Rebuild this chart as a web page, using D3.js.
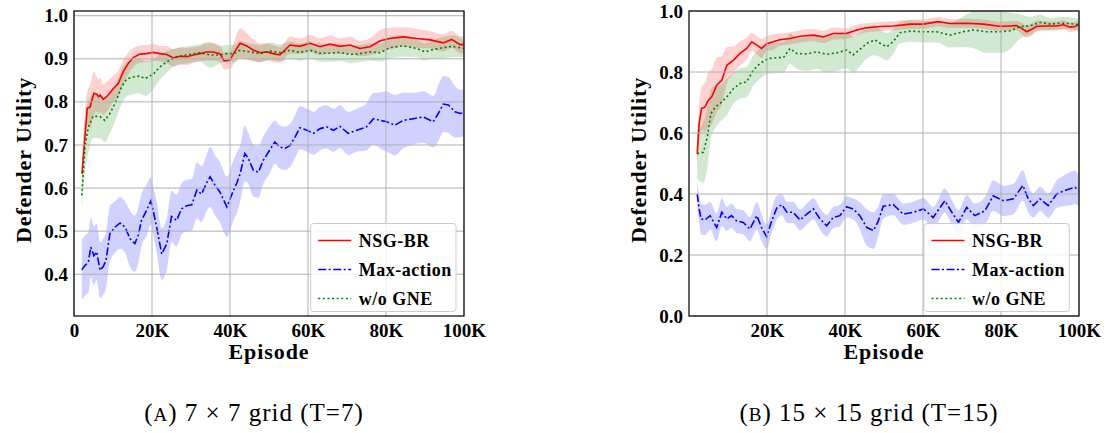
<!DOCTYPE html>
<html><head><meta charset="utf-8">
<script src="https://cdn.jsdelivr.net/npm/d3@7"></script>
<style>body{margin:0;background:#fff}svg{display:block}</style>
</head><body>
<svg id="c" width="1118" height="433"></svg>
<script>
// ---------- DATA (episodes in thousands) ----------
const seriesNames = ["NSG-BR", "Max-action", "w/o GNE"];
const xTicksA = [0, 20, 40, 60, 80, 100];
const xTicksB = [20, 40, 60, 80, 100];
const yTicksA = [0.4, 0.5, 0.6, 0.7, 0.8, 0.9, 1.0];
const yTicksB = [0.0, 0.2, 0.4, 0.6, 0.8, 1.0];
const captions = [["(", "A", ") 7 × 7 grid (T=7)"], ["(", "B", ") 15 × 15 grid (T=15)"]];

// Panel A: NSG-BR
const aRedX = [2.05,3.4,4.1,5.1,5.8,6.3,6.7,7.5,8.4,10.1,11.4,12.6,13.9,15.2,16.9,18.6,20.3,22,23.8,25.5,27.2,28.9,30.6,32.3,34,35.7,37.4,38.5,40,40.9,42.6,44.3,46,47.7,49.4,51.1,52.8,55.4,57.9,60.5,63.1,65.6,68.2,70.8,73.3,75.9,78.5,81,84.4,87.9,91.3,94.7,96.8,99,100];
const aRedY = [0.633,0.785,0.788,0.82,0.818,0.812,0.816,0.806,0.812,0.831,0.843,0.87,0.889,0.903,0.911,0.912,0.915,0.912,0.91,0.902,0.906,0.905,0.909,0.912,0.916,0.916,0.912,0.895,0.897,0.912,0.936,0.93,0.92,0.914,0.916,0.912,0.909,0.932,0.929,0.936,0.928,0.934,0.929,0.932,0.924,0.928,0.942,0.947,0.951,0.947,0.944,0.937,0.945,0.933,0.933];
const aRedS = [0.03,0.04,0.05,0.05,0.04,0.04,0.04,0.035,0.035,0.03,0.03,0.028,0.025,0.022,0.02,0.02,0.02,0.018,0.02,0.02,0.02,0.02,0.018,0.018,0.02,0.02,0.02,0.02,0.02,0.025,0.035,0.03,0.025,0.022,0.02,0.02,0.018,0.02,0.018,0.02,0.02,0.02,0.018,0.02,0.018,0.02,0.025,0.025,0.022,0.022,0.02,0.02,0.02,0.02,0.02];
// Panel A: Max-action
const aBlueX = [2,2.8,3.7,4.3,5.1,5.8,6.7,7.5,8.2,9.2,10.5,11.8,13.1,14.4,15.6,16.5,17.3,18.6,19.7,20.3,21.2,22.5,23.8,25,26.3,27.6,28.9,30.2,31.5,32.7,34,34.9,36.2,37.4,39.2,40.9,41.8,42.6,43.8,44.6,46,47.3,48.5,50.3,51.5,52.8,54.1,55.4,56.7,57.9,59.7,61.4,63.1,64.8,66.5,68.2,70.3,72.5,75,76.8,78.5,80.2,82.3,84.4,87,89.6,92.1,93.4,94.7,96,97.7,99,100];
const aBlueY = [0.41,0.42,0.428,0.463,0.443,0.452,0.409,0.418,0.432,0.494,0.509,0.519,0.509,0.482,0.471,0.491,0.525,0.548,0.57,0.548,0.509,0.447,0.471,0.534,0.525,0.552,0.559,0.561,0.595,0.586,0.612,0.626,0.606,0.591,0.556,0.595,0.613,0.633,0.68,0.671,0.641,0.637,0.664,0.69,0.707,0.695,0.692,0.699,0.719,0.74,0.734,0.727,0.738,0.742,0.734,0.743,0.727,0.734,0.742,0.761,0.757,0.754,0.746,0.757,0.761,0.765,0.754,0.773,0.795,0.793,0.777,0.773,0.775];
const aBlueS = [0.07,0.07,0.07,0.07,0.068,0.065,0.065,0.065,0.065,0.065,0.06,0.06,0.06,0.065,0.065,0.065,0.06,0.06,0.055,0.055,0.06,0.06,0.06,0.06,0.06,0.06,0.06,0.06,0.065,0.065,0.065,0.07,0.07,0.07,0.07,0.07,0.07,0.065,0.065,0.06,0.06,0.06,0.055,0.055,0.05,0.05,0.05,0.05,0.05,0.05,0.05,0.05,0.05,0.05,0.05,0.05,0.05,0.05,0.055,0.06,0.065,0.07,0.07,0.065,0.06,0.06,0.06,0.065,0.065,0.065,0.06,0.055,0.055];
// Panel A: w/o GNE
const aGreenX = [2,2.8,3.7,4.9,6.7,7.9,9.2,10.9,12.2,13.5,15.2,16.9,18.2,20.3,22,23.8,26.3,28.9,32.3,34.9,37.4,39.1,40.9,42.6,45.1,47.7,50.3,52.8,55.4,57.9,60.5,63.1,65.6,68.2,70.8,73.3,75.9,78.5,81,84.4,87.9,90,91.3,94.7,97,100];
const aGreenY = [0.583,0.695,0.742,0.767,0.766,0.757,0.773,0.804,0.835,0.853,0.858,0.86,0.854,0.864,0.881,0.893,0.905,0.909,0.914,0.909,0.909,0.912,0.912,0.92,0.916,0.912,0.918,0.914,0.92,0.915,0.92,0.913,0.913,0.915,0.91,0.912,0.916,0.914,0.926,0.93,0.924,0.916,0.92,0.926,0.929,0.924];
const aGreenS = [0.03,0.06,0.06,0.05,0.05,0.05,0.045,0.04,0.04,0.04,0.04,0.04,0.04,0.035,0.03,0.025,0.02,0.02,0.02,0.03,0.02,0.02,0.02,0.02,0.02,0.02,0.02,0.02,0.02,0.02,0.02,0.02,0.02,0.02,0.02,0.02,0.02,0.02,0.025,0.025,0.02,0.02,0.02,0.025,0.025,0.02];

// Panel B: NSG-BR
const bRedX = [2.1,2.6,3.2,4.1,4.9,5.8,7.1,8.4,9.7,11.4,13.1,14.8,16.1,17.4,18.6,19.9,21.6,23.3,25.9,28.5,31.9,34.4,37,40.4,43,45.6,49,52.4,56.7,60.1,63.9,66.9,71.2,75.5,79.7,82.3,84,85.3,86.6,87.9,89.2,91.7,94.3,96,97.7,99,100];
const bRedY = [0.532,0.63,0.68,0.685,0.707,0.718,0.757,0.773,0.822,0.839,0.861,0.877,0.899,0.888,0.877,0.893,0.899,0.906,0.91,0.917,0.921,0.915,0.926,0.926,0.938,0.945,0.949,0.951,0.957,0.957,0.965,0.959,0.96,0.957,0.95,0.951,0.952,0.943,0.932,0.94,0.95,0.951,0.951,0.955,0.947,0.949,0.955];
const bRedS = [0.04,0.06,0.07,0.08,0.09,0.09,0.09,0.08,0.06,0.045,0.04,0.035,0.03,0.03,0.03,0.025,0.025,0.02,0.02,0.02,0.02,0.02,0.02,0.018,0.018,0.015,0.015,0.015,0.015,0.015,0.015,0.015,0.015,0.015,0.015,0.015,0.015,0.018,0.02,0.02,0.018,0.015,0.015,0.015,0.015,0.015,0.015];
// Panel B: Max-action
const bBlueX = [2.1,2.6,3.1,4.1,5.4,7.1,8.4,9.7,10.9,12.2,13.9,15.6,17.4,18.6,19.9,21.2,22.5,23.8,25.1,26.7,28.5,30.2,31.9,33.6,35.3,37,38.7,40.4,42.1,43.8,45.6,47.3,48.5,49.8,52.4,54.9,57.5,60.1,62.6,65.6,67.4,69.1,71.2,73.3,75.9,78,80.6,83.2,85.6,87,88.3,90,92.1,94.3,96,97.7,99,100];
const bBlueY = [0.4,0.351,0.318,0.315,0.329,0.29,0.34,0.318,0.329,0.312,0.307,0.285,0.329,0.29,0.26,0.312,0.354,0.365,0.34,0.34,0.315,0.334,0.351,0.318,0.296,0.323,0.329,0.358,0.351,0.329,0.29,0.28,0.31,0.36,0.365,0.334,0.34,0.351,0.323,0.378,0.34,0.307,0.356,0.329,0.345,0.394,0.378,0.384,0.428,0.384,0.362,0.384,0.362,0.4,0.41,0.417,0.422,0.41];
const bBlueS = [0.04,0.045,0.05,0.05,0.045,0.045,0.045,0.04,0.04,0.04,0.04,0.04,0.045,0.045,0.04,0.04,0.04,0.035,0.035,0.035,0.035,0.035,0.035,0.035,0.035,0.035,0.035,0.035,0.035,0.045,0.06,0.06,0.05,0.04,0.035,0.035,0.035,0.035,0.035,0.04,0.04,0.04,0.04,0.04,0.045,0.05,0.05,0.05,0.05,0.045,0.04,0.04,0.04,0.045,0.05,0.055,0.055,0.05];
// Panel B: w/o GNE
const bGreenX = [2.1,3.7,4.7,5.6,6.7,7.9,9.7,11.4,13.1,14.8,16.5,18.2,20.3,22.5,24.2,25.9,27.6,30.2,32.7,35.3,37.9,40.4,42.1,43.8,45.6,47.7,49,50.7,52.4,54.1,56.7,60.1,63.5,66.9,70.3,72.9,76.3,79.7,82.3,84.9,87.4,90,92.6,95.1,97.7,100];
const bGreenY = [0.532,0.537,0.587,0.663,0.685,0.696,0.718,0.746,0.762,0.768,0.806,0.828,0.844,0.847,0.847,0.877,0.861,0.859,0.866,0.858,0.863,0.872,0.856,0.874,0.894,0.905,0.894,0.883,0.9,0.929,0.934,0.932,0.932,0.921,0.932,0.938,0.932,0.932,0.935,0.949,0.951,0.963,0.957,0.96,0.959,0.955];
const bGreenS = [0.08,0.1,0.1,0.08,0.07,0.06,0.06,0.05,0.05,0.05,0.05,0.05,0.05,0.05,0.05,0.05,0.05,0.055,0.055,0.06,0.06,0.06,0.06,0.055,0.05,0.05,0.045,0.045,0.04,0.035,0.035,0.035,0.035,0.04,0.05,0.06,0.07,0.07,0.06,0.04,0.03,0.025,0.02,0.02,0.02,0.02];

// ---------- STYLE ----------
const colors = {"NSG-BR": "#ff0000", "Max-action": "#0000ff", "w/o GNE": "#008000"};
const fills = {"NSG-BR": "rgba(255,0,0,0.18)", "Max-action": "rgba(0,0,255,0.18)", "w/o GNE": "rgba(0,128,0,0.18)"};
const dashes = {"NSG-BR": null, "Max-action": "8,2.5,2,2.5", "w/o GNE": "2,2.6"};
const FAM = '"Liberation Serif"';

const svg = d3.select("#c");

const panels = [
  {x0: 74, x1: 464, y0: 11, y1: 316, yDom: [0.303, 1.011], yTicks: yTicksA, xTicks: xTicksA, cap: captions[0], capX: 254,
   data: {"NSG-BR": [aRedX, aRedY, aRedS], "Max-action": [aBlueX, aBlueY, aBlueS], "w/o GNE": [aGreenX, aGreenY, aGreenS]}},
  {x0: 689, x1: 1079, y0: 11, y1: 316, yDom: [0, 1.0], yTicks: yTicksB, xTicks: xTicksB, cap: captions[1], capX: 869,
   data: {"NSG-BR": [bRedX, bRedY, bRedS], "Max-action": [bBlueX, bBlueY, bBlueS], "w/o GNE": [bGreenX, bGreenY, bGreenS]}}
];

panels.forEach((p, pi) => {
  const x = d3.scaleLinear().domain([0, 100]).range([p.x0, p.x1]);
  const y = d3.scaleLinear().domain(p.yDom).range([p.y1, p.y0]);
  const g = svg.append("g");
  const clipId = "clip" + pi;
  svg.append("clipPath").attr("id", clipId).append("rect")
    .attr("x", p.x0).attr("y", p.y0).attr("width", p.x1 - p.x0).attr("height", p.y1 - p.y0);

  const plot = g.append("g").attr("clip-path", `url(#${clipId})`);
  const order = ["NSG-BR", "Max-action", "w/o GNE"];
  order.forEach(name => {
    const [xs, ys, ss] = p.data[name];
    const pts = xs.map((v, i) => ({x: v, y: ys[i], s: ss[i]}));
    plot.append("path").datum(pts)
      .attr("fill", fills[name]).attr("stroke", "none")
      .attr("d", d3.area().x(d => x(d.x)).y0(d => y(d.y - d.s)).y1(d => y(d.y + d.s)).curve(d3.curveMonotoneX));
  });
  const grid = g.append("g");
  p.xTicks.forEach(t => {
    grid.append("line").attr("x1", x(t)).attr("x2", x(t)).attr("y1", p.y0).attr("y2", p.y1)
      .attr("stroke", "#b0b0b0").attr("stroke-width", 1);
  });
  p.yTicks.forEach(t => {
    grid.append("line").attr("x1", p.x0).attr("x2", p.x1).attr("y1", y(t)).attr("y2", y(t))
      .attr("stroke", "#b0b0b0").attr("stroke-width", 1);
  });
  order.forEach(name => {
    const [xs, ys] = p.data[name];
    const pts = xs.map((v, i) => ({x: v, y: ys[i]}));
    const path = plot.append("path").datum(pts)
      .attr("fill", "none").attr("stroke", colors[name]).attr("stroke-width", 1.6)
      .attr("d", d3.line().x(d => x(d.x)).y(d => y(d.y)));
    if (dashes[name]) path.attr("stroke-dasharray", dashes[name]);
  });
  const xAxis = d3.axisBottom(x).tickValues(p.xTicks).tickSize(0).tickPadding(8)
    .tickFormat(d => d === 0 ? "0" : d + "K");
  const xa = g.append("g").attr("transform", `translate(0,${p.y1})`).call(xAxis);
  const yAxis = d3.axisLeft(y).tickValues(p.yTicks).tickSize(0).tickPadding(6).tickFormat(d3.format(".1f"));
  const ya = g.append("g").attr("transform", `translate(${p.x0},0)`).call(yAxis);
  [xa, ya].forEach(a => {
    a.select(".domain").remove();
    a.selectAll("text").style("font-family", FAM).style("font-weight", "bold")
      .style("font-size", "19px").attr("fill", "#000");
  });
  g.append("rect").attr("x", p.x0).attr("y", p.y0).attr("width", p.x1 - p.x0).attr("height", p.y1 - p.y0)
    .attr("fill", "none").attr("stroke", "#000").attr("stroke-width", 1.2);
  const cx = (p.x0 + p.x1) / 2;
  g.append("text").attr("x", cx).attr("y", 359).attr("text-anchor", "middle")
    .style("font-family", FAM).style("font-weight", "bold").style("font-size", "22px").style("letter-spacing", "0.9px")
    .text("Episode");
  g.append("text").attr("transform", `translate(${p.x0 - 43},160) rotate(-90)`).attr("text-anchor", "middle")
    .style("font-family", FAM).style("font-weight", "bold").style("font-size", "22px").style("letter-spacing", "0.9px")
    .text("Defender Utility");
  const lx = p.x0 + (pi === 0 ? 236.7 : 235), ly = 223.5;
  const lg = g.append("g");
  lg.append("rect").attr("x", lx).attr("y", ly).attr("width", 145.3).attr("height", 88).attr("rx", 3)
    .attr("fill", "rgba(255,255,255,0.85)").attr("stroke", "#cccccc").attr("stroke-width", 1);
  const rows = [17, 46, 75];
  seriesNames.forEach((name, i) => {
    const yy = ly + rows[i];
    const ln = lg.append("line").attr("x1", lx + 7.5).attr("x2", lx + 40.5).attr("y1", yy).attr("y2", yy)
      .attr("stroke", colors[name]).attr("stroke-width", 1.6);
    if (dashes[name]) ln.attr("stroke-dasharray", dashes[name]);
    lg.append("text").attr("x", lx + 48).attr("y", yy).attr("dy", "0.35em")
      .style("font-family", FAM).style("font-weight", "bold").style("font-size", "18px").style("letter-spacing", "0.5px")
      .text(name);
  });
  const capT = svg.append("text").attr("x", p.capX).attr("y", 421).attr("text-anchor", "middle")
    .style("font-family", FAM).style("font-size", "25px").style("letter-spacing", "1px");
  capT.append("tspan").text(p.cap[0]);
  capT.append("tspan").style("font-size", "19px").text(p.cap[1]);
  capT.append("tspan").text(p.cap[2]);
});
</script>
</body></html>
